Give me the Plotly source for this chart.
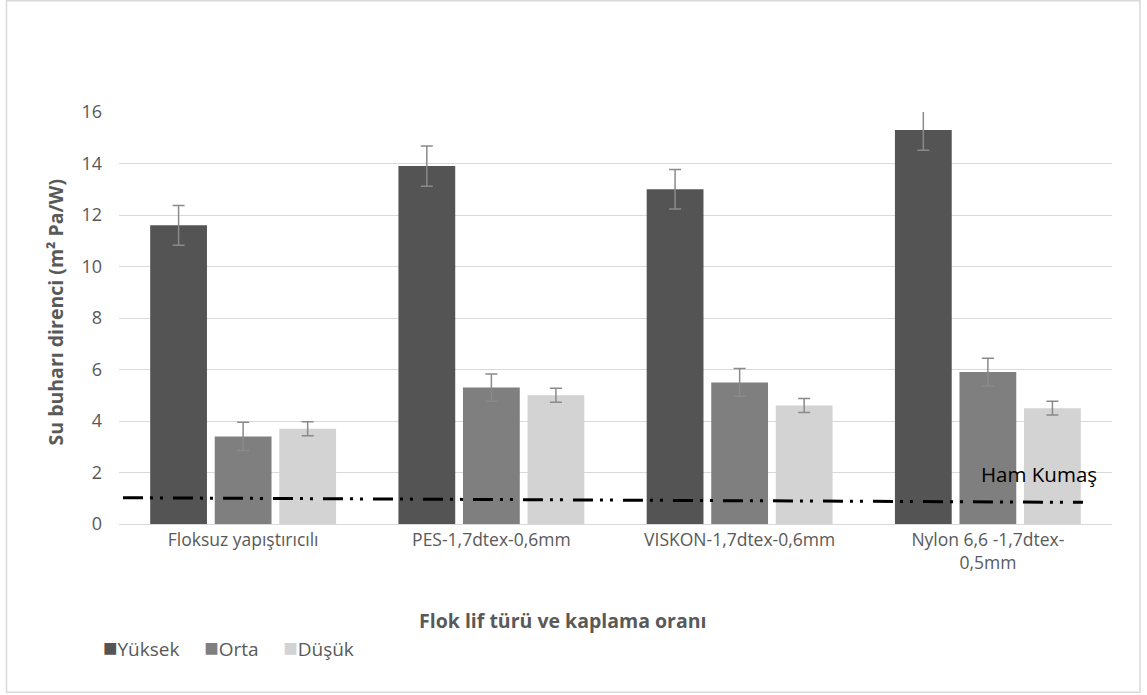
import plotly.graph_objects as go

categories = ["Floksuz yapıştırıcılı", "PES-1,7dtex-0,6mm", "VISKON-1,7dtex-0,6mm", "Nylon 6,6 -1,7dtex-<br>0,5mm"]
series_names = ["Yüksek", "Orta", "Düşük"]
yuksek = [11.6, 13.9, 13.0, 15.3]
orta = [3.4, 5.3, 5.5, 5.9]
dusuk = [3.7, 5.0, 4.6, 4.5]
yuksek_err = [0.77, 0.78, 0.77, 0.79]
orta_err = [0.55, 0.53, 0.54, 0.54]
dusuk_err = [0.27, 0.27, 0.27, 0.27]
ham_x = [-0.484, 3.383]
ham_y = [1.02, 0.84]
y_ticks = [0, 2, 4, 6, 8, 10, 12, 14, 16]

colors = ["#545454", "#7f7f7f", "#d3d3d3"]
FONT = "Open Sans"
GRAY = "#595959"

fig = go.Figure()
for name, vals, errs, c in zip(series_names, [yuksek, orta, dusuk], [yuksek_err, orta_err, dusuk_err], colors):
    fig.add_trace(go.Bar(
        x=categories, y=vals, name=name, showlegend=False,
        marker=dict(color=c, line=dict(color=c, width=0)),
        error_y=dict(type="data", array=errs, visible=True, color="#8a8a8a", thickness=1.5, width=6),
    ))

fig.add_trace(go.Scatter(
    x=ham_x, y=ham_y, mode="lines", xaxis="x2", showlegend=False,
    line=dict(color="black", width=3, dash="20px,7px,3px,7px,3px,10px"),
))

PX = lambda x: (x - 119) / 993
PY = lambda y: (524.3 - y) / 411.6

legend_text = "&nbsp;&nbsp;&nbsp;&nbsp;&nbsp;".join(
    f"<span style='color:{c};font-size:24px'>■</span>{n}" for n, c in zip(series_names, colors)
)

fig.update_layout(
    width=1147, height=695,
    margin=dict(l=119, r=35, t=112, b=171),
    paper_bgcolor="white", plot_bgcolor="white",
    barmode="group", bargap=0.22, bargroupgap=0.12,
    font=dict(family=FONT, color=GRAY, size=15),
    xaxis=dict(type="category", showgrid=False, showline=True, linecolor="#d9d9d9", linewidth=1,
               ticks="", tickfont=dict(size=17.5, color=GRAY, family=FONT), range=[-0.5, 3.5]),
    xaxis2=dict(overlaying="x", range=[-0.5, 3.5], visible=False),
    yaxis=dict(range=[0, 16], tickvals=y_ticks, showgrid=True, gridcolor="#d9d9d9", gridwidth=1,
               zeroline=False, showline=False, ticks="", ticklabelstandoff=16,
               tickfont=dict(size=18, color=GRAY, family=FONT)),
    showlegend=False,
    annotations=[
        dict(text="Su buharı direnci (m² Pa/W)", textangle=-90, xref="paper", yref="paper",
             x=PX(55), y=PY(313), xanchor="center", yanchor="middle",
             showarrow=False, font=dict(size=19.5, color=GRAY, family=FONT, weight="bold")),
        dict(text="Flok lif türü ve kaplama oranı", xref="paper", yref="paper",
             x=PX(563), y=PY(621), xanchor="center", yanchor="middle",
             showarrow=False, font=dict(size=19.5, color=GRAY, family=FONT, weight="bold")),
        dict(text="Ham Kumaş", xref="paper", yref="paper",
             x=PX(1039), y=PY(474), xanchor="center", yanchor="middle",
             showarrow=False, font=dict(size=20.5, color="black", family=FONT)),
        dict(text=legend_text, xref="paper", yref="paper",
             x=PX(101), y=PY(647), xanchor="left", yanchor="middle",
             showarrow=False, font=dict(size=19, color=GRAY, family=FONT)),
    ],
    shapes=[dict(type="rect", xref="paper", yref="paper",
                 x0=PX(6.5), x1=PX(1140), y0=PY(692.5), y1=PY(1.5),
                 line=dict(color="#d9d9d9", width=1.5), layer="below")],
)

fig.write_html("out.html", config={"displayModeBar": False},
               post_script="document.body.style.margin='0px';document.body.style.overflow='hidden';")
